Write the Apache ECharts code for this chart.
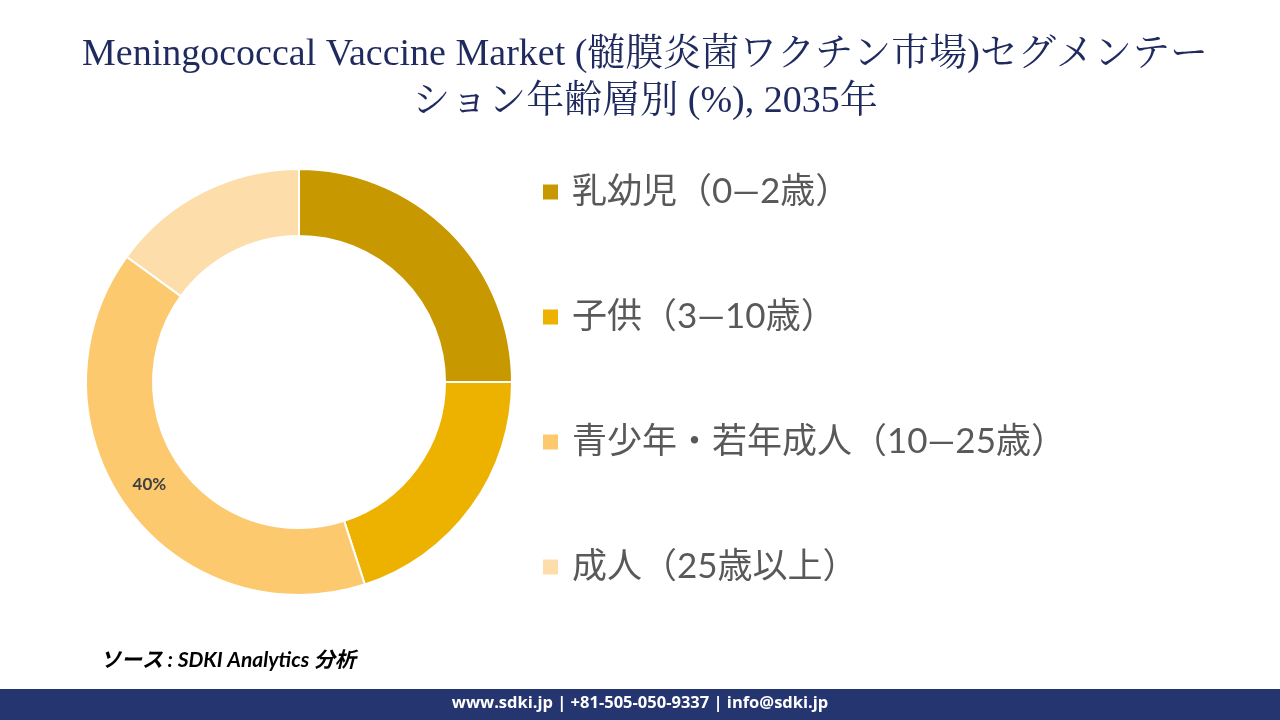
<!DOCTYPE html>
<html><head><meta charset="utf-8">
<script src="https://cdn.jsdelivr.net/npm/echarts@6/dist/echarts.min.js"></script>
<style>html,body{margin:0;padding:0;background:#fff;}#c{width:1280px;height:720px;}</style>
</head><body><div id="c"></div>
<script>
const titleLines = ['Meningococcal Vaccine Market (髄膜炎菌ワクチン市場)セグメンテー', 'ション年齢層別 (%), 2035年'];
const categories = ['乳幼児（0—2歳）', '子供（3—10歳）', '青少年・若年成人（10—25歳）', '成人（25歳以上）'];
const values = [25, 20, 40, 15];
const colors = ['#C89800', '#EDB100', '#FDC96E', '#FDDEAA'];
const labelShown = [false, false, true, false];
const sourceText = 'ソース : SDKI Analytics 分析';
const footerText = 'www.sdki.jp | +81-505-050-9337 | info@sdki.jp';

const chart = echarts.init(document.getElementById('c'));
const data = categories.map((name, i) => ({
  name, value: values[i],
  itemStyle: { color: colors[i] },
  label: { show: labelShown[i] }
}));
chart.setOption({
  backgroundColor: '#fff',
  animation: false,
  title: {
    text: titleLines.join('\n'),
    left: 640, top: 27, textAlign: 'center',
    textStyle: { fontFamily: '"Liberation Serif", "Noto Serif CJK JP", "Noto Sans CJK JP", serif', fontSize: 38, fontWeight: 'normal', color: '#1F2A5E', lineHeight: 47 }
  },
  legend: {
    orient: 'vertical', left: 536, top: 167,
    icon: 'rect', itemWidth: 17, itemHeight: 17, itemGap: 85,
    selectedMode: false,
    textStyle: { fontFamily: 'Lato, "Noto Sans CJK JP", sans-serif', fontSize: 35, color: '#595959', lineHeight: 40, padding: [0, 0, 0, 8] },
    data: categories
  },
  series: [{
    type: 'pie',
    center: [299, 382],
    radius: [146, 213],
    startAngle: 90,
    clockwise: true,
    itemStyle: { borderColor: '#fff', borderWidth: 2 },
    label: { position: 'inside', formatter: '{c}%', fontFamily: 'Lato, sans-serif', fontWeight: 'bold', fontSize: 17, color: '#404040', offset: [-2, -5] },
    labelLine: { show: false },
    emphasis: { disabled: true },
    data
  }],
  graphic: [
    { type: 'text', left: 100, top: 650, style: { text: sourceText, font: 'italic bold 21px Lato, "Noto Sans CJK JP", sans-serif', fill: '#000' } },
    { type: 'rect', left: 0, top: 689, shape: { width: 1280, height: 31 }, style: { fill: '#253570' } },
    { type: 'text', left: 'center', top: 695, style: { text: footerText, font: 'bold 16.5px "Open Sans", Lato, sans-serif', fill: '#fff' } }
  ]
});
</script></body></html>
